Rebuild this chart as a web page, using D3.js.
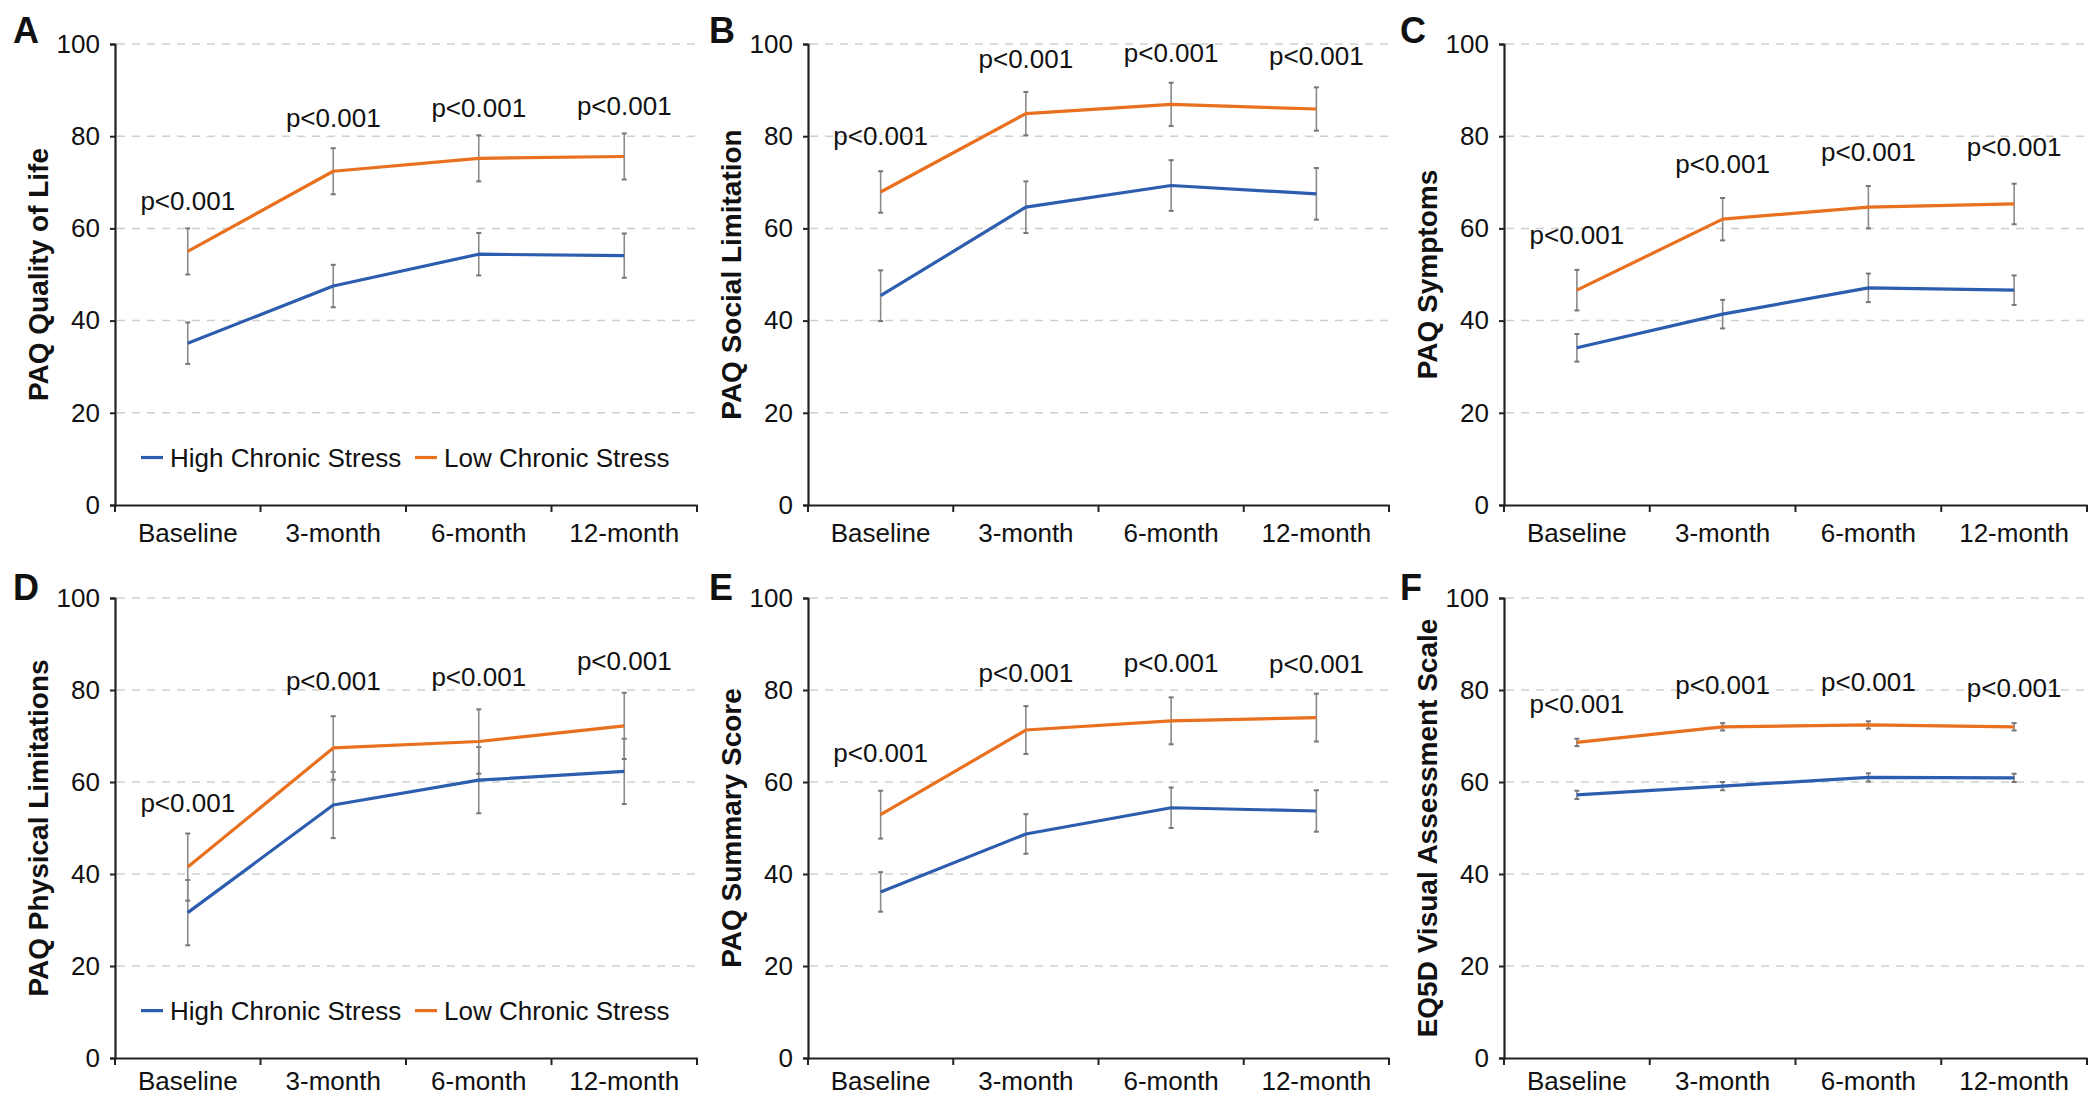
<!DOCTYPE html>
<html>
<head>
<meta charset="utf-8">
<script src="https://cdn.jsdelivr.net/npm/d3@7"></script>
<style>
  html, body { margin: 0; padding: 0; background: #fff; }
  svg { display: block; }
  text { font-family: "Liberation Sans", Arial, sans-serif; fill: #111; }
</style>
</head>
<body>
<svg id="chart" width="2100" height="1099"></svg>
<script>
// ---------------- DATA ----------------
const categories = ["Baseline", "3-month", "6-month", "12-month"];
const yTicks = [0, 20, 40, 60, 80, 100];
const seriesNames = ["High Chronic Stress", "Low Chronic Stress"];
const pText = "p<0.001";

const panelLetters = ["A", "B", "C", "D", "E", "F"];
const panelTitles = ["PAQ Quality of Life", "PAQ Social Limitation", "PAQ Symptoms",
                     "PAQ Physical Limitations", "PAQ Summary Score", "EQ5D Visual Assessment Scale"];

// High chronic stress (means)
const highA = [35.1, 47.5, 54.4, 54.1];
const highB = [45.4, 64.6, 69.3, 67.5];
const highC = [34.1, 41.4, 47.1, 46.6];
const highD = [31.6, 55.0, 60.4, 62.3];
const highE = [36.1, 48.7, 54.4, 53.7];
const highF = [57.2, 59.1, 61.0, 60.9];
// High chronic stress (error half-widths)
const highErrA = [4.5, 4.6, 4.6, 4.8];
const highErrB = [5.5, 5.6, 5.5, 5.6];
const highErrC = [3.0, 3.1, 3.1, 3.2];
const highErrD = [7.1, 7.2, 7.2, 7.1];
const highErrE = [4.3, 4.3, 4.4, 4.5];
const highErrF = [0.9, 0.9, 0.9, 0.9];
// Low chronic stress (means)
const lowA = [55.0, 72.4, 75.2, 75.6];
const lowB = [67.9, 84.9, 86.9, 85.9];
const lowC = [46.6, 62.0, 64.6, 65.3];
const lowD = [41.5, 67.4, 68.8, 72.2];
const lowE = [52.9, 71.3, 73.3, 74.0];
const lowF = [68.6, 72.0, 72.4, 72.0];
// Low chronic stress (error half-widths)
const lowErrA = [5.0, 5.0, 5.0, 5.0];
const lowErrB = [4.5, 4.7, 4.7, 4.7];
const lowErrC = [4.4, 4.6, 4.6, 4.4];
const lowErrD = [7.3, 6.9, 7.0, 7.2];
const lowErrE = [5.2, 5.2, 5.1, 5.2];
const lowErrF = [0.8, 0.8, 0.8, 0.8];
// p-value annotation heights (in axis units)
const pPosA = [63.9, 82.0, 84.2, 84.6];
const pPosB = [78.1, 94.9, 96.0, 95.4];
const pPosC = [56.7, 72.0, 74.6, 75.8];
const pPosD = [53.5, 80.0, 80.9, 84.4];
const pPosE = [64.4, 81.7, 84.0, 83.6];
const pPosF = [74.9, 79.1, 79.8, 78.4];
// legend position (axis units), shown in panels A and D
const legendLevel = 10.3;

// ---------------- LAYOUT ----------------
const COLORS = ["#2D5DAE", "#E8701E"];
const svg = d3.select("#chart");

const colX = [[115, 697], [808, 1389], [1504, 2087]];
const rowY = [[44, 505], [598, 1058]];
const labelPad = [14, 9];
const letterX = [13, 709, 1400];
const letterBase = [43, 600];

const panels = [
  {high: highA, highErr: highErrA, low: lowA, lowErr: lowErrA, p: pPosA, legend: true},
  {high: highB, highErr: highErrB, low: lowB, lowErr: lowErrB, p: pPosB, legend: false},
  {high: highC, highErr: highErrC, low: lowC, lowErr: lowErrC, p: pPosC, legend: false},
  {high: highD, highErr: highErrD, low: lowD, lowErr: lowErrD, p: pPosD, legend: true},
  {high: highE, highErr: highErrE, low: lowE, lowErr: lowErrE, p: pPosE, legend: false},
  {high: highF, highErr: highErrF, low: lowF, lowErr: lowErrF, p: pPosF, legend: false}
];

panels.forEach((pd, i) => {
  const col = i % 3, row = Math.floor(i / 3);
  const [x0, x1] = colX[col];
  const [yTop, yBot] = rowY[row];
  const g = svg.append("g");

  const x = d3.scaleBand().domain(categories).range([x0, x1]).padding(0);
  const y = d3.scaleLinear().domain([0, 100]).range([yBot, yTop]);

  // gridlines
  g.append("g").selectAll("line").data(yTicks.filter(t => t > 0)).join("line")
    .attr("x1", x0 + 2).attr("x2", x1)
    .attr("y1", d => y(d)).attr("y2", d => y(d))
    .attr("stroke", "#cfcfcf").attr("stroke-width", 1.5)
    .attr("stroke-dasharray", "8,7");

  // y axis
  const yAxis = g.append("g").attr("transform", `translate(${x0},0)`)
    .call(d3.axisLeft(y).tickValues(yTicks).tickSize(5).tickPadding(10).tickFormat(d3.format("d")));
  yAxis.select(".domain").attr("stroke", "#222").attr("stroke-width", 2.2);
  yAxis.selectAll(".tick line").attr("stroke", "#222").attr("stroke-width", 2);
  yAxis.selectAll(".tick text").attr("font-size", 26).attr("fill", "#111")
    .style("font-family", "'Liberation Sans', Arial, sans-serif");

  // x axis
  const xAxis = g.append("g").attr("transform", `translate(0,${yBot})`)
    .call(d3.axisBottom(x).tickSize(0).tickPadding(labelPad[row]));
  xAxis.select(".domain").attr("stroke", "#222").attr("stroke-width", 2.2);
  xAxis.selectAll(".tick text").attr("font-size", 26).attr("fill", "#111")
    .attr("dy", "0.9em")
    .style("font-family", "'Liberation Sans', Arial, sans-serif");
  // band-boundary ticks
  const bounds = categories.map(c => x(c)).concat([x1]);
  g.append("g").selectAll("line").data(bounds).join("line")
    .attr("x1", d => d).attr("x2", d => d)
    .attr("y1", yBot).attr("y2", yBot + 7)
    .attr("stroke", "#222").attr("stroke-width", 2);

  const cx = c => x(c) + x.bandwidth() / 2;

  // error bars
  [[pd.high, pd.highErr], [pd.low, pd.lowErr]].forEach(([vals, errs]) => {
    const eg = g.append("g");
    categories.forEach((c, k) => {
      const xm = cx(c);
      eg.append("line").attr("x1", xm).attr("x2", xm)
        .attr("y1", y(vals[k] - errs[k])).attr("y2", y(vals[k] + errs[k]))
        .attr("stroke", "#8a8a8a").attr("stroke-width", 1.6);
      [vals[k] - errs[k], vals[k] + errs[k]].forEach(v => {
        eg.append("line").attr("x1", xm - 2.5).attr("x2", xm + 2.5)
          .attr("y1", y(v)).attr("y2", y(v))
          .attr("stroke", "#777").attr("stroke-width", 2);
      });
    });
  });

  // lines
  const line = d3.line().x((d, k) => cx(categories[k])).y(d => y(d));
  [pd.high, pd.low].forEach((vals, s) => {
    g.append("path").datum(vals).attr("d", line)
      .attr("fill", "none").attr("stroke", COLORS[s]).attr("stroke-width", 3.2)
      .attr("stroke-linejoin", "round");
  });

  // p-values
  g.append("g").selectAll("text").data(pd.p).join("text")
    .attr("x", (d, k) => cx(categories[k])).attr("y", d => y(d))
    .attr("text-anchor", "middle").attr("font-size", 26)
    .text(pText);

  // y title
  g.append("text")
    .attr("transform", `translate(${x0 - 77},${(yTop + yBot) / 2}) rotate(-90)`)
    .attr("text-anchor", "middle").attr("dy", "0.35em")
    .attr("font-size", 28).attr("font-weight", "bold")
    .text(panelTitles[i]);

  // panel letter
  g.append("text").attr("x", letterX[col]).attr("y", letterBase[row])
    .attr("font-size", 36).attr("font-weight", "bold").text(panelLetters[i]);

  // legend
  if (pd.legend) {
    const ly = y(legendLevel);
    const lx = [x0 + 26, x0 + 300];
    seriesNames.forEach((nm, s) => {
      g.append("line").attr("x1", lx[s]).attr("x2", lx[s] + 22)
        .attr("y1", ly).attr("y2", ly)
        .attr("stroke", COLORS[s]).attr("stroke-width", 3.2);
      g.append("text").attr("x", lx[s] + 29).attr("y", ly).attr("dy", "0.35em")
        .attr("font-size", 26).text(nm);
    });
  }
});
</script>
</body>
</html>
